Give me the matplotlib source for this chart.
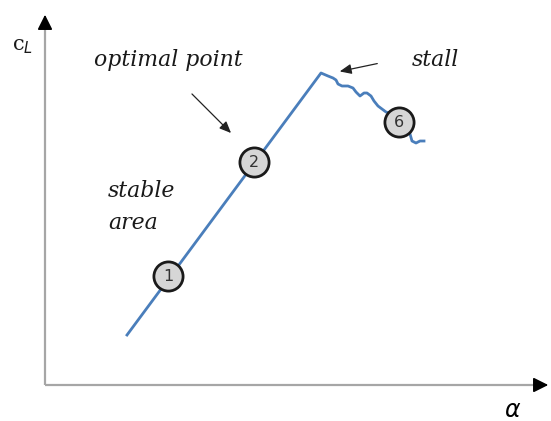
import matplotlib
matplotlib.use("Agg")
import matplotlib.pyplot as plt

# curve data (alpha, c_L) in arbitrary units
alpha = [8.2, 27.6, 28.3, 28.8, 29.1, 29.3, 29.7, 30.3, 30.8, 31.1, 31.5, 31.9, 32.2,
         32.6, 32.9, 33.3, 33.7, 34.1, 34.7, 35.2, 35.5, 36.3, 36.5, 36.7, 37.1, 37.5, 37.9]
cL = [5.0, 31.2, 30.9, 30.7, 30.5, 30.1, 29.9, 29.9, 29.7, 29.3, 28.9, 29.2, 29.2,
      28.9, 28.4, 27.9, 27.6, 27.3, 27.1, 26.8, 26.2, 25.7, 25.1, 24.4, 24.2, 24.4, 24.4]

# operating points
pt_labels = ["1", "2", "6"]
pt_alpha = [12.3, 20.9, 35.4]
pt_cL = [10.9, 22.3, 26.3]

fig = plt.figure(figsize=(5.51, 4.21), dpi=100)
ax = fig.add_axes([0, 0, 1, 1])
ax.set_xlim(-4.5, 50.6)
ax.set_ylim(-3.6, 38.5)
ax.axis("off")

axis_col = "#a6a6a6"
ax.plot([0, 49.6], [0, 0], color=axis_col, lw=1.6, solid_capstyle="butt")
ax.plot([0, 0], [0, 35.8], color=axis_col, lw=1.6, solid_capstyle="butt")
ax.annotate("", xy=(50.6, 0), xytext=(49.4, 0),
            arrowprops=dict(arrowstyle="-|>,head_length=0.9,head_width=0.45", color="black", lw=1.2))
ax.annotate("", xy=(0, 37.3), xytext=(0, 35.6),
            arrowprops=dict(arrowstyle="-|>,head_length=0.9,head_width=0.45", color="black", lw=1.2))

ax.plot(alpha, cL, color="#4a7ebb", lw=2.0, solid_joinstyle="round", zorder=3)

for lab, x, y in zip(pt_labels, pt_alpha, pt_cL):
    ax.plot(x, y, "o", ms=21, mfc="#d6d6d6", mec="#1a1a1a", mew=2.0, zorder=4)
    ax.text(x, y - 0.05, lab, ha="center", va="center", fontsize=11.5,
            family="DejaVu Sans", color="#333333", zorder=5)

serif = dict(family="DejaVu Serif", style="italic", color="#1a1a1a")
ax.text(12.3, 32.5, "optimal point", ha="center", va="center", fontsize=15.8, **serif)
ax.text(39.0, 32.5, "stall", ha="center", va="center", fontsize=15.8, **serif)
ax.text(6.3, 19.4, "stable", ha="left", va="center", fontsize=15.8, **serif)
ax.text(6.3, 16.2, "area", ha="left", va="center", fontsize=15.8, **serif)
ax.text(-2.2, 33.8, r"c$_L$", ha="center", va="center", fontsize=15,
        family="DejaVu Serif", color="#1a1a1a")
ax.text(46.8, -2.5, r"$\alpha$", ha="center", va="center", fontsize=17)

ax.annotate("", xy=(18.8, 25.0), xytext=(14.5, 29.3),
            arrowprops=dict(arrowstyle="-|>,head_length=0.7,head_width=0.3",
                            color="#222222", lw=0.9))
ax.annotate("", xy=(29.2, 31.3), xytext=(33.5, 32.2),
            arrowprops=dict(arrowstyle="-|>,head_length=0.7,head_width=0.3",
                            color="#222222", lw=0.9))

fig.savefig("out.png", dpi=100)
